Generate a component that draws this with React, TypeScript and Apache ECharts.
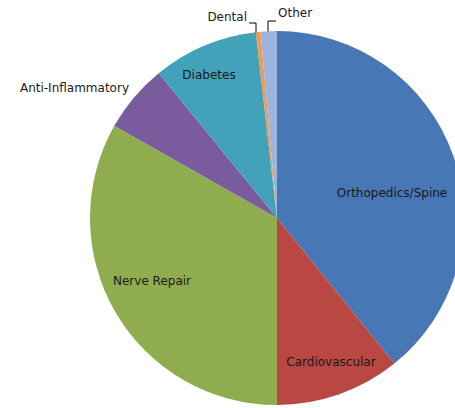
import React, { useEffect, useRef } from "react";
import * as echarts from "echarts";

const categories = [
  "Orthopedics/Spine",
  "Cardiovascular",
  "Nerve Repair",
  "Anti-Inflammatory",
  "Diabetes",
  "Dental",
  "Other",
];
const values = [39.2, 10.8, 33.2, 5.9, 9.1, 0.4, 1.4];

const colors = ["#4777B5", "#B94742", "#8FAD4F", "#7A5B9D", "#42A2BA", "#F29A52", "#9DB4DE"];

// label placement (pixel anchors for label text), align
const labelAnchors: Array<{ x: number; y: number; align: string }> = [
  { x: 392, y: 193, align: "center" },
  { x: 331, y: 362, align: "center" },
  { x: 152, y: 281, align: "center" },
  { x: 129, y: 88, align: "right" },
  { x: 209, y: 75, align: "center" },
  { x: 247, y: 17, align: "right" },
  { x: 278, y: 13, align: "left" },
];
const leaderLines: Record<number, number[][]> = {
  5: [[256, 37], [256, 23], [249, 23]],
  6: [[268, 37], [268, 21], [276, 21]],
};

export default function App() {
  const ref = useRef<HTMLDivElement>(null);
  useEffect(() => {
    if (!ref.current) return;
    const chart = echarts.init(ref.current, undefined, { renderer: "svg" });
    chart.setOption({
      animation: false,
      backgroundColor: "#ffffff",
      series: [
        {
          type: "pie",
          center: [277, 218],
          radius: 187,
          startAngle: 90,
          clockwise: true,
          avoidLabelOverlap: false,
          data: categories.map((name, i) => ({
            name,
            value: values[i],
            itemStyle: { color: colors[i] },
            labelLine: { show: leaderLines[i] !== undefined },
          })),
          label: {
            show: true,
            position: "outside",
            formatter: "{b}",
            color: "#1a1a1a",
            fontFamily: "DejaVu Sans",
            fontSize: 12,
          },
          labelLine: {
            show: false,
            lineStyle: { color: "#000000", width: 1 },
            length: 5,
            length2: 5,
          },
          labelLayout: (params: any) => {
            const i = params.dataIndex;
            const a = labelAnchors[i];
            const out: any = {
              x: a.x,
              y: a.y,
              align: a.align,
              verticalAlign: "middle",
            };
            if (leaderLines[i]) out.labelLinePoints = leaderLines[i];
            return out;
          },
        },
      ],
    });
    return () => chart.dispose();
  }, []);
  return (
    <div
      ref={ref}
      style={{ position: "absolute", left: 0, top: 0, width: 455, height: 408 }}
    />
  );
}
